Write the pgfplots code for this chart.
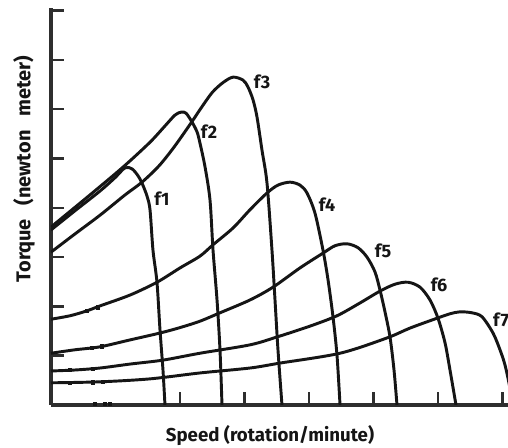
\documentclass[border=0pt]{standalone}
\usepackage{pgfplots}
\pgfplotsset{compat=1.18}
\usepackage{fontspec}
\setmainfont{Fira Sans}
\definecolor{axisgray}{HTML}{2E2E2E}
\definecolor{curve}{HTML}{151515}
\tikzset{tc/.style={line width=2.2pt, color=curve, smooth, tension=0.5, mark=none},
  flab/.style={font=\bfseries\fontsize{13.5}{14}\selectfont, text=curve}}
\begin{document}
\begin{tikzpicture}
\useasboundingbox (0,0) rectangle (381pt,-336pt);
\fill[white] (0,0) rectangle (381pt,-336pt);
\begin{axis}[
  at={(38.25pt,-303.75pt)}, anchor=south west,
  x=48.375pt, y=36.975pt,
  xmin=0, xmax=7.09, ymin=0, ymax=8.05,
  enlargelimits=false,
  axis lines=left,
  axis line style={-, line width=2.4pt, color=axisgray},
  xtick={2,...,7}, ytick={1,...,8},
  xticklabels={}, yticklabels={},
  tick align=inside, major tick length=10pt,
  tick style={line width=1.9pt, color=axisgray},
  clip=true,
]
% f1
\addplot[tc] coordinates {(0,3.55) (0.372,3.94) (0.760,4.34) (0.992,4.61) (1.147,4.81) (1.256,4.79) (1.349,4.65) (1.411,4.50) (1.488,4.24) (1.535,3.96) (1.581,3.14) (1.643,2.49) (1.690,1.52) (1.736,0.71) (1.767,0)};
% f2
\addplot[tc] coordinates {(0,3.61) (0.372,4.01) (0.760,4.43) (1.147,4.86) (1.535,5.33) (1.767,5.66) (1.922,5.88) (2.016,5.94) (2.093,5.92) (2.186,5.74) (2.264,5.54) (2.310,5.31) (2.388,4.83) (2.465,4.16) (2.512,3.14) (2.574,2.13) (2.620,1.12) (2.651,0)};
% f3
\addplot[tc] coordinates {(0,3.10) (0.372,3.47) (0.760,3.85) (1.147,4.26) (1.411,4.52) (1.674,4.85) (1.907,5.23) (2.171,5.72) (2.330,6.03) (2.500,6.34) (2.667,6.54) (2.822,6.65) (2.977,6.59) (3.054,6.45) (3.132,6.19) (3.194,5.84) (3.271,5.17) (3.349,4.50) (3.426,3.14) (3.473,2.13) (3.519,1.12) (3.581,0)};
% f4
\addplot[tc] coordinates {(0,1.74) (0.295,1.81) (0.558,1.91) (0.760,2.01) (1.225,2.23) (1.643,2.49) (2.000,2.78) (2.310,3.02) (2.512,3.25) (2.822,3.59) (3.085,3.96) (3.349,4.30) (3.519,4.46) (3.705,4.52) (3.860,4.46) (3.969,4.30) (4.093,3.89) (4.217,3.14) (4.295,2.54) (4.372,1.79) (4.434,1.01) (4.481,0)};
% f5
\addplot[tc] coordinates {(0,1.05) (0.372,1.12) (0.760,1.18) (1.225,1.32) (1.690,1.46) (2.000,1.57) (2.310,1.70) (2.620,1.87) (3.085,2.13) (3.442,2.39) (3.860,2.78) (4.217,3.08) (4.403,3.23) (4.589,3.27) (4.760,3.19) (4.899,3.00) (5.023,2.70) (5.101,2.33) (5.178,1.89) (5.256,1.38) (5.318,0.71) (5.364,0)};
% f6
\addplot[tc] coordinates {(0,0.69) (0.372,0.71) (0.760,0.75) (1.225,0.83) (1.736,0.91) (2.310,1.05) (3.085,1.22) (3.504,1.38) (4.016,1.60) (4.434,1.81) (4.791,2.07) (5.101,2.31) (5.333,2.45) (5.535,2.49) (5.721,2.39) (5.876,2.13) (6.000,1.76) (6.109,1.26) (6.186,0.71) (6.279,0)};
% f7
\addplot[tc] coordinates {(0,0.45) (0.760,0.47) (1.535,0.53) (2.310,0.65) (3.085,0.75) (3.550,0.85) (4.481,1.05) (5.209,1.36) (5.566,1.56) (5.985,1.76) (6.186,1.85) (6.341,1.89) (6.527,1.87) (6.682,1.79) (6.853,1.46) (6.961,1.12) (7.039,0.81) (7.116,0.34) (7.147,0)};
% small hand marks
\addplot[only marks, mark=square*, mark size=1.3pt, color=curve] coordinates {(0.558,1.91) (0.729,1.98) (0.636,1.16) (0.791,1.19) (0.295,0.71) (0.651,0.74) (0.295,0.45) (0.651,0.46) (0.806,0.47) (0.682,0.02) (0.837,0.02) (0.915,0.02)};
\node[flab] at (axis cs:1.721,4.18) {f1};
\node[flab] at (axis cs:2.450,5.54) {f2};
\node[flab] at (axis cs:3.271,6.55) {f3};
\node[flab] at (axis cs:4.279,4.06) {f4};
\node[flab] at (axis cs:5.147,3.12) {f5};
\node[flab] at (axis cs:6.016,2.43) {f6};
\node[flab] at (axis cs:6.977,1.72) {f7};
\end{axis}
\node[font=\bfseries\fontsize{14}{15}\selectfont, text=curve] at (202.5pt,-327pt) {Speed (rotation/minute)};
\node[rotate=90, font=\bfseries\fontsize{15}{16}\selectfont, text=curve] at (18pt,-126.75pt) {Torque\hspace{0.7em}(newton\hspace{0.7em}meter)};
\end{tikzpicture}
\end{document}
